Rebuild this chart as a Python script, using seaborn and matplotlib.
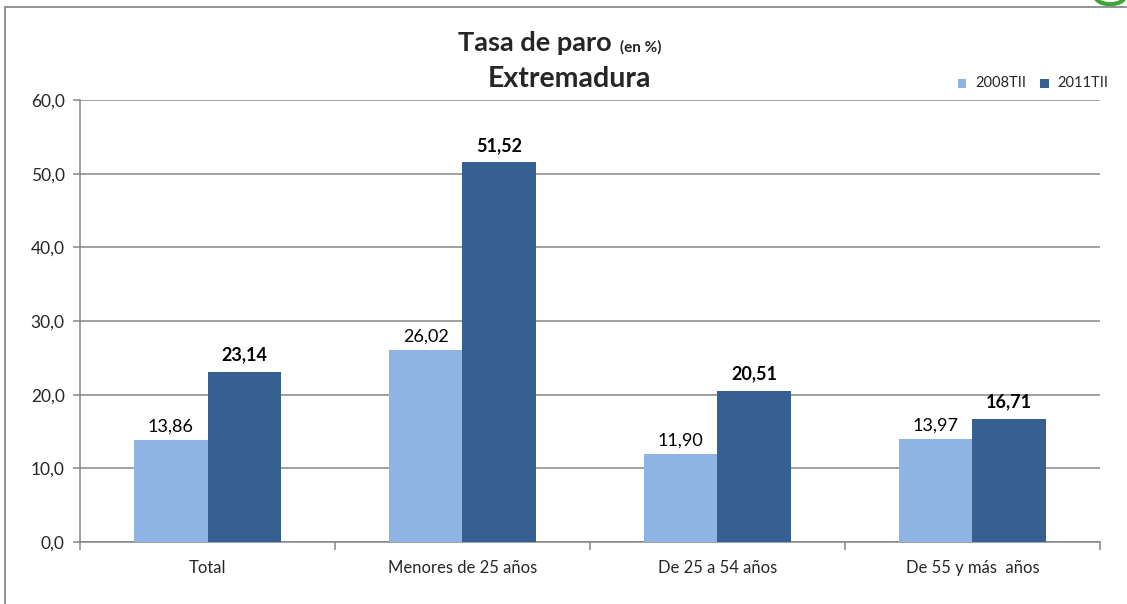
import pandas as pd
import numpy as np
import matplotlib.pyplot as plt
import seaborn as sns
from matplotlib.patches import Rectangle, Ellipse

categories = ["Total", "Menores de 25 años", "De 25 a 54 años", "De 55 y más  años"]
series_names = ["2008TII", "2011TII"]
values_2008 = [13.86, 26.02, 11.90, 13.97]
values_2011 = [23.14, 51.52, 20.51, 16.71]
yticks = [0, 10, 20, 30, 40, 50, 60]

light = "#8EB4E3"
dark = "#366092"
grid_c = "#868686"

df = pd.DataFrame({
    "cat": categories * 2,
    "serie": [series_names[0]] * 4 + [series_names[1]] * 4,
    "valor": values_2008 + values_2011,
})

sns.set_style("white")
plt.rcParams["font.family"] = ["Lato", "DejaVu Sans"]

fig = plt.figure(figsize=(11.27, 6.04), dpi=100)
ax = fig.add_axes([0.071, 0.1026, 0.905, 0.7318])

sns.barplot(data=df, x="cat", y="valor", hue="serie", order=categories,
            hue_order=series_names, palette=[light, dark], width=0.575,
            saturation=1, ax=ax, legend=False, zorder=3)

for bar in ax.patches:
    bar.set_edgecolor("none")

ax.bar_label(ax.containers[0], labels=[f"{v:.2f}".replace(".", ",") for v in values_2008],
             padding=4, fontsize=13, color="black")
ax.bar_label(ax.containers[1], labels=[f"{v:.2f}".replace(".", ",") for v in values_2011],
             padding=6, fontsize=13, fontweight="bold", color="black")

ax.set_ylim(0, 60)
ax.set_xlim(-0.5, len(categories) - 0.5)
ax.set_yticks(yticks)
ax.set_yticklabels([f"{t:.1f}".replace(".", ",") for t in yticks], fontsize=12.5)
ax.yaxis.grid(True, color=grid_c, linewidth=1.1, zorder=0)
ax.set_axisbelow(True)
ax.set_xlabel("")
ax.set_ylabel("")
ax.tick_params(axis="x", length=0, labelsize=12, pad=13)
ax.tick_params(axis="y", length=5, color=grid_c, left=True, width=1.1, pad=6)
ax.set_xticks(np.arange(-0.5, len(categories)), minor=True)
ax.tick_params(axis="x", which="minor", length=6, color=grid_c, width=1.1, bottom=True)

for side in ["top", "right"]:
    ax.spines[side].set_visible(False)
for side in ["left", "bottom"]:
    ax.spines[side].set_color(grid_c)
    ax.spines[side].set_linewidth(1.1)

# title
fig.text(0.543, 0.915, "Tasa de paro", fontsize=19.5, fontweight="bold", ha="right", va="baseline")
fig.text(0.550, 0.915, "(en %)", fontsize=11, fontweight="bold", ha="left", va="baseline")
fig.text(0.505, 0.856, "Extremadura", fontsize=20.5, fontweight="bold", ha="center", va="baseline")

# legend
for x0, name, col in [(0.850, series_names[0], light), (0.923, series_names[1], dark)]:
    fig.patches.append(Rectangle((x0, 0.855), 0.0075, 0.014, transform=fig.transFigure,
                                 facecolor=col, edgecolor="none"))
    fig.text(x0 + 0.015, 0.862, name, fontsize=10.5, ha="left", va="center")

# outer frame
fig.add_artist(plt.Line2D([0.0045, 1.0], [0.988, 0.988], transform=fig.transFigure,
                          color="#8a8a8a", linewidth=1.3))
fig.add_artist(plt.Line2D([0.0045, 0.0045], [0.0, 0.988], transform=fig.transFigure,
                          color="#8a8a8a", linewidth=1.3))

# logo fragment top right
fig.patches.append(Ellipse((0.985, 1.006), 0.026, 0.026, transform=fig.transFigure,
                           facecolor="none", edgecolor="#3aa636", linewidth=3))

fig.savefig("out.png", dpi=100)
